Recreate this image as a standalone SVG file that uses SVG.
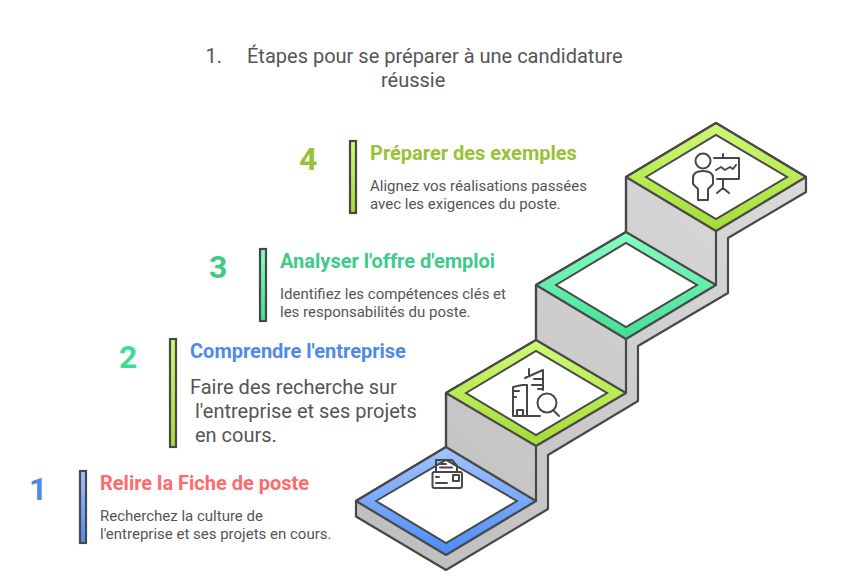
<svg xmlns="http://www.w3.org/2000/svg" width="853" height="580" viewBox="0 0 853 580">
<style>
text{font-family:Roboto,"Liberation Sans",sans-serif}
.t{font-size:20px;font-weight:700}
.d{font-size:15px;fill:#555}
.dl{font-size:20px;fill:#555}
.n{font-size:32px;font-weight:700}
.h{font-size:20px;fill:#555}
.o{stroke:#484848;stroke-width:2.2;stroke-linejoin:round;fill:none}
.bar{stroke:#484848;stroke-width:2.2}
.ic{fill:none;stroke:#484848;stroke-width:2;stroke-linejoin:round;stroke-linecap:round}
</style>
<defs>
<linearGradient id="gb" x1="0" y1="0" x2="0" y2="1"><stop offset="0" stop-color="#a3c4ff"/><stop offset="1" stop-color="#4a8cf7"/></linearGradient>
<linearGradient id="gl" x1="0" y1="0" x2="0" y2="1"><stop offset="0" stop-color="#d0f977"/><stop offset="1" stop-color="#a5dc36"/></linearGradient>
<linearGradient id="gt" x1="0" y1="0" x2="0" y2="1"><stop offset="0" stop-color="#88fdc3"/><stop offset="1" stop-color="#42de96"/></linearGradient>
<linearGradient id="gs" x1="0" y1="1" x2="1" y2="0"><stop offset="0" stop-color="#bdbdbd"/><stop offset="1" stop-color="#dcdcdc"/></linearGradient>
</defs>
<text class="h" x="205.500" y="63">1.</text>
<text class="h" x="247" y="63">Étapes pour se préparer à une candidature</text>
<text class="h" x="381" y="87">réussie</text>
<g id="connectors">
<path d="M356 501V516.500L446 570L548 509V455L638 401V346L728 293V238L806 192V177L716 123L626 177V232L536 285V340L446 393V447Z" fill="url(#gs)" stroke="#484848" stroke-width="2.200" stroke-linejoin="round"/>
<path class="o" d="M626 177V339M536 285V446M446 393V447M536 446V501M626 339V393M716 231V285"/>
</g>
<g id="step1">
<path d="M356 501L446 447L536 501L446 555Z" class="o" style="fill:url(#gb)"/>
<path d="M376 501L446 460L517 501L446 543Z" fill="#fff" stroke="#484848" stroke-width="2"/>
<path class="ic" d="M436 472V460H452L457 466V472M440 464H446M440 467.500H452"/>
<rect class="ic" x="432.500" y="472" width="29.500" height="16" rx="2" style="fill:#fff"/>
<path class="ic" d="M436 477H439M436 483H447"/>
<rect class="ic" x="453" y="475" width="6" height="6"/>
<text class="n" x="29" y="500" style="fill:#4e8ae8">1</text>
<rect class="bar" x="80" y="471" width="6" height="72" fill="url(#gb)"/>
<text class="t" x="100" y="490" style="fill:#ff6b6b">Relire la Fiche de poste</text>
<text class="d" x="100" y="521">Recherchez la culture de</text>
<text class="d" x="100" y="539">l'entreprise et ses projets en cours.</text>
</g>
<g id="step2">
<path d="M446 393L536 340L626 393L536 446Z" class="o" style="fill:url(#gl)"/>
<path d="M466 393L536 351L607 393L536 435Z" fill="#fff" stroke="#484848" stroke-width="2"/>
<path class="ic" d="M513 416V387L522 385H527V416M513 416H540M513 391H519M513 397H516M517 416V410H523V416M525 378L543 370V390M529 369V376M534 379H543M532 385H543M538 389H543"/>
<circle class="ic" cx="547" cy="403" r="9.500"/>
<path class="ic" d="M553 410L559 416"/>
<text class="n" x="119" y="368" style="fill:#3ddc97">2</text>
<rect class="bar" x="170" y="339" width="6" height="108" fill="url(#gl)"/>
<text class="t" x="190" y="358" style="fill:#4e8ae8">Comprendre l'entreprise</text>
<text class="dl" x="190" y="394">Faire des recherche sur</text>
<text class="dl" x="195" y="418">l'entreprise et ses projets</text>
<text class="dl" x="195" y="442">en cours.</text>
</g>
<g id="step3">
<path d="M536 285L626 232L716 285L626 339Z" class="o" style="fill:url(#gt)"/>
<path d="M556 285L626 243L697 285L626 327Z" fill="#fff" stroke="#484848" stroke-width="2"/>
<text class="n" x="209" y="278" style="fill:#3ccb89">3</text>
<rect class="bar" x="260" y="249" width="6" height="72" fill="url(#gt)"/>
<text class="t" x="280" y="268" style="fill:#3ccb89">Analyser l'offre d'emploi</text>
<text class="d" x="280" y="299">Identifiez les compétences clés et</text>
<text class="d" x="280" y="317">les responsabilités du poste.</text>
</g>
<g id="step4">
<path d="M626 177L716 123L806 177L716 231Z" class="o" style="fill:url(#gl)"/>
<path d="M646 177L716 135L787 177L716 219Z" fill="#fff" stroke="#484848" stroke-width="2"/>
<circle class="ic" cx="703" cy="161" r="7.500"/>
<path class="ic" d="M698 200V189L693 184V178Q693 171 703 171Q713 171 713 178V184L708 189V200Z"/>
<path class="ic" d="M714 158H739V179H717M723 154V158M723 179V188M717 193L723 188L729 193M716 170L721 167L725 170L730 167L733 169L736 165"/>
<text class="n" x="299" y="170" style="fill:#97c23a">4</text>
<rect class="bar" x="350" y="141" width="6" height="72" fill="url(#gl)"/>
<text class="t" x="370" y="160" style="fill:#97c23a">Préparer des exemples</text>
<text class="d" x="370" y="191">Alignez vos réalisations passées</text>
<text class="d" x="370" y="209">avec les exigences du poste.</text>
</g>
</svg>
